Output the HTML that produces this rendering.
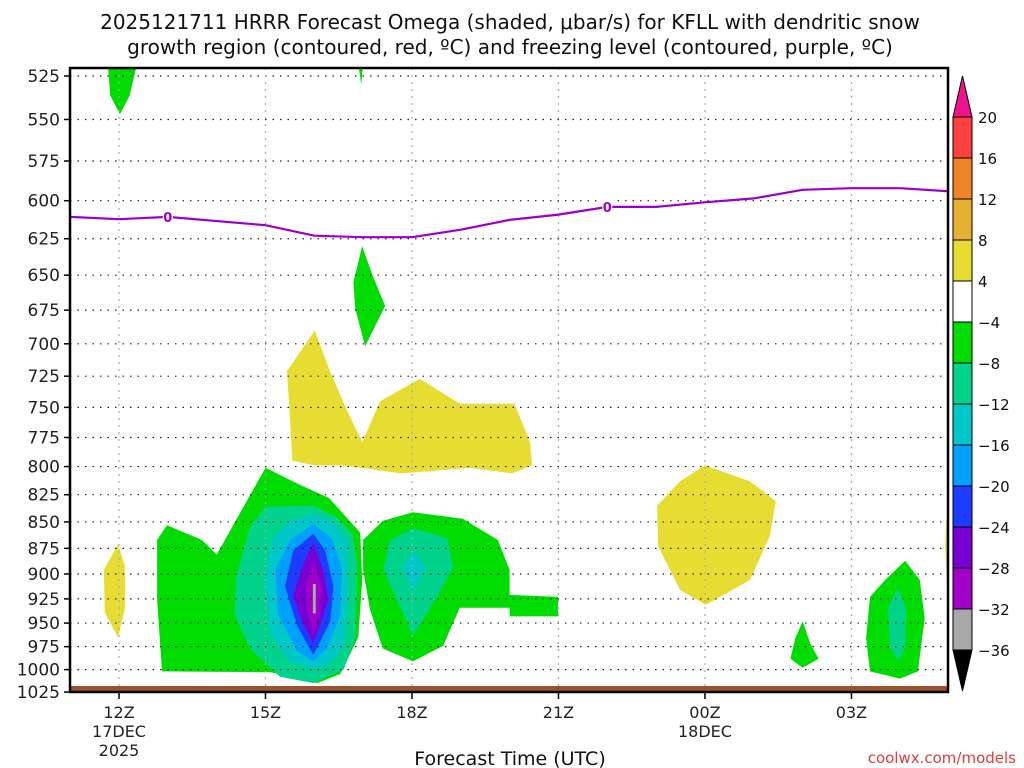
<!DOCTYPE html>
<html><head><meta charset="utf-8"><style>
html,body{margin:0;padding:0;background:#fff;}
svg{display:block;font-family:"DejaVu Sans","Liberation Sans",sans-serif;}
</style></head><body>
<svg id="chart" width="1024" height="768" viewBox="0 0 1024 768" xmlns="http://www.w3.org/2000/svg">
<text x="510" y="29" font-size="20" text-anchor="middle" fill="#111">2025121711 HRRR Forecast Omega (shaded, μbar/s) for KFLL with dendritic snow</text>
<text x="510" y="54" font-size="20" text-anchor="middle" fill="#111">growth region (contoured, red, ºC) and freezing level (contoured, purple, ºC)</text>
<defs><clipPath id="plotclip"><rect x="70" y="68" width="878" height="624"/></clipPath></defs>
<g id="shades" clip-path="url(#plotclip)"></g>
<g id="grid"></g>
<g id="frz" clip-path="url(#plotclip)"></g>
<rect x="70" y="686" width="878" height="6" fill="#a0522d"/>
<g id="axes"></g>
<g id="cbar"></g>
<text x="510" y="765" font-size="19" text-anchor="middle" fill="#111">Forecast Time (UTC)</text>
<text x="1016" y="763" font-size="15" text-anchor="end" fill="#e03c3c">coolwx.com/models</text>
</svg>
<script>
// ---- data ----
const pressureTicks = [525,550,575,600,625,650,675,700,725,750,775,800,825,850,875,900,925,950,975,1000,1025];
const timeTicks = [12,15,18,21,24,27];
const timeLabels = ["12Z","15Z","18Z","21Z","00Z","03Z"];
const timeSubLabels = [["17DEC","2025"],[],[],[],["18DEC"],[]];
const cbarLevels = [20,16,12,8,4,-4,-8,-12,-16,-20,-24,-28,-32,-36];
const cbarColors = ["#ff4040","#f08428","#e6b030","#e6dc32","#ffffff","#00dc00","#00d48c","#00c8c8","#00a0ff","#1e3cff","#7800d2","#a000c8","#a8a8a8"];
const greenLeft = [[12.78,867],[12.98,853],[13.7,867],[14.0,881],[15.0,801],[15.7,816],[16.3,828],[16.94,860],[16.98,906],[16.9,965],[16.53,1005],[16.06,1015],[15.1,1003],[12.88,1002],[12.78,925]];
const tealLeft = [[15,836],[15.98,835],[16.47,846],[16.78,861],[16.88,891],[16.84,966],[16.6,1000],[15.98,1015],[15.3,1008],[14.68,977],[14.37,941],[14.4,903],[14.68,855]];
const cyanLeft = [[15.98,843],[16.37,849],[16.68,867],[16.7,918],[16.6,974],[16.26,996],[15.98,999],[15.5,991],[15.1,962],[15.0,903],[15.13,867],[15.5,849]];
const lblueLeft = [[15.98,852],[16.37,866],[16.57,896],[16.53,942],[16.26,977],[15.98,991],[15.65,980],[15.26,941],[15.2,896],[15.5,867]];
const dblueLeft = [[15.98,861],[16.22,877],[16.39,912],[16.33,948],[15.98,984],[15.65,953],[15.4,912],[15.57,877]];
const purpleLeft = [[15.98,870],[16.18,896],[16.29,925],[16.12,952],[15.98,971],[15.75,948],[15.57,922],[15.75,893]];
const magentaLeft = [[15.98,887],[16.16,915],[16.08,942],[15.98,960],[15.86,938],[15.82,912]];
const grayCore = [[15.97,910],[16.03,910],[16.03,940],[15.97,940]];
const green18 = [[17.0,867],[17.4,849],[18.02,841],[19.04,847],[19.76,867],[20.0,896],[20.0,921],[20.99,923],[20.99,943],[20.0,943],[20.0,934],[18.98,934],[18.64,974],[18.02,991],[17.4,977],[17.14,936],[17.0,896]];
const teal18 = [[17.55,867],[18.02,856],[18.72,865],[18.84,893],[18.57,918],[18.02,963],[17.41,896]];
const cyan18 = [[18.02,877],[18.27,894],[18.02,918],[17.82,894]];
const yellowMid = [[15.44,721],[16.01,690],[16.32,721],[16.63,749],[16.98,779],[17.35,745],[18.16,727],[18.98,747],[20.1,747],[20.42,779],[20.46,799],[20.05,806],[19.19,801],[18.37,804],[17.76,806],[17.14,802],[16.53,799],[16.01,799],[15.55,795],[15.5,758]];
const green17 = [[16.98,630],[17.18,649],[17.45,672],[17.04,702],[16.84,674],[16.8,655]];
const greenTop12 = [[11.77,518],[12.37,518],[12.22,536],[12.02,547],[11.82,536]];
const greenTop17 = [[16.9,518],[17.0,518],[16.96,530]];
const yellow12 = [[11.98,871],[12.12,892],[12.12,935],[11.98,965],[11.71,939],[11.69,896]];
const yellow00 = [[24,799],[24.92,813],[25.45,831],[25.33,863],[24.92,906],[24.02,931],[23.49,916],[23.04,873],[23.02,835],[23.49,813]];
const yellowEdge = [[29.1,833],[28.94,848],[28.92,872],[28.96,915],[29.1,967]];
const green02 = [[26,948],[26.16,972],[26.33,988],[26,998],[25.75,988],[25.85,966]];
const green04 = [[28.1,887],[28.4,906],[28.5,945],[28.36,1002],[27.99,1010],[27.38,1002],[27.3,966],[27.38,923],[27.69,906]];
const teal04 = [[27.95,914],[28.12,935],[28.1,976],[27.95,990],[27.79,976],[27.75,935]];
const regions = [
 ["yellow-mid",3,yellowMid],["yellow-12z",3,yellow12],["yellow-00z",3,yellow00],["yellow-edge",3,yellowEdge],
 ["green-top-12z",5,greenTop12],["green-top-17z",5,greenTop17],["green-17z",5,green17],
 ["green-left",5,greenLeft],["teal-left",6,tealLeft],["cyan-left",7,cyanLeft],["lightblue-left",8,lblueLeft],
 ["darkblue-left",9,dblueLeft],["purple-left",10,purpleLeft],["magenta-left",11,magentaLeft],["gray-core",12,grayCore],
 ["green-18z",5,green18],["teal-18z",6,teal18],["cyan-18z",7,cyan18],
 ["green-02z",5,green02],["green-04z",5,green04],["teal-04z",6,teal04]
];
const frzHours = [11,12,13,15,16,17,18,19,20,21,22,23,24,25,26,27,28,29];
const frzPress = [610.5,612,610.5,616,623,624,624,619,612.5,609,604,604,601,598.5,593,592,592,594];
const frzLabelHours = [13,22];
// ---- axes ----
const NS="http://www.w3.org/2000/svg";
const X0=70,X1=948,Y0=68,Y1=692;
function xs(h){return 119+(h-12)*48.83;}
function ys(p){const f=(Math.log(p)-Math.log(525))/(Math.log(1025)-Math.log(525));return 76+616*f+3*Math.sin(Math.PI*f);}
function mk(tag,attrs,parent){const e=document.createElementNS(NS,tag);for(const k in attrs)e.setAttribute(k,attrs[k]);parent.appendChild(e);return e;}
const shades=document.getElementById('shades');
regions.forEach(r=>{
 const pts=r[2].map(d=>xs(d[0]).toFixed(1)+','+ys(d[1]).toFixed(1)).join(' ');
 const el=mk('polygon',{points:pts,fill:cbarColors[r[1]]},shades);
 
 
});
const grid=document.getElementById('grid');
pressureTicks.forEach(p=>{
 const el=mk('line',{x1:X0,x2:X1,y1:ys(p),y2:ys(p),stroke:'#222','stroke-width':1.2,'stroke-dasharray':'1.5 6'},grid);
 
 
});
timeTicks.forEach(h=>{
 const el=mk('line',{x1:xs(h),x2:xs(h),y1:Y0,y2:Y1,stroke:'#aaa','stroke-width':1.2,'stroke-dasharray':'2 5'},grid);
 
 
});
const frz=document.getElementById('frz');
const fl=mk('polyline',{points:frzHours.map((h,i)=>xs(h).toFixed(1)+','+ys(frzPress[i]).toFixed(1)).join(' '),fill:'none',stroke:'#9a00cc','stroke-width':2.2},frz);


frzLabelHours.forEach(h=>{
 let i=frzHours.indexOf(h);const y=ys(frzPress[i]);
 const bg=mk('rect',{x:xs(h)-5,y:y-7,width:10,height:14,fill:'#fff'},frz);
 
 
 const t=mk('text',{x:xs(h),y:y+5,'font-size':13,'text-anchor':'middle',fill:'#9a00cc','font-weight':'bold'},frz);
 t.textContent='0';
 
 
});
const axes=document.getElementById('axes');
const frame=mk('path',{d:`M${X0},${Y0}H${X1}V${Y1}H${X0}Z`,fill:'none',stroke:'#000','stroke-width':2.5},axes);


pressureTicks.forEach(p=>{
 const tk=mk('line',{x1:X0-6,x2:X0,y1:ys(p),y2:ys(p),stroke:'#000','stroke-width':1.5},axes);
 
 
 const t=mk('text',{x:X0-10,y:ys(p)+6,'font-size':17,'text-anchor':'end',fill:'#222'},axes);
 t.textContent=p;
 
 
});
timeTicks.forEach((h,i)=>{
 const tk=mk('line',{x1:xs(h),x2:xs(h),y1:Y1,y2:Y1+7,stroke:'#000','stroke-width':1.5},axes);
 
 
 const t=mk('text',{x:xs(h),y:718,'font-size':16,'text-anchor':'middle',fill:'#222'},axes);
 t.textContent=timeLabels[i];
 
 
 timeSubLabels[i].forEach((s,j)=>{
  const u=mk('text',{x:xs(h),y:737+j*19,'font-size':16,'text-anchor':'middle',fill:'#222'},axes);
  u.textContent=s;
  
  
 });
});
const cb=document.getElementById('cbar');
const CX0=953,CX1=972;
function cy(i){return 117+i*41;}
for(let i=0;i<cbarColors.length;i++){
 const r=mk('rect',{x:CX0,y:cy(i),width:CX1-CX0,height:41,fill:cbarColors[i],stroke:'#000','stroke-width':1},cb);
 
 
}
const tt=mk('polygon',{points:`${CX0},${cy(0)} ${CX1},${cy(0)} ${(CX0+CX1)/2},76`,fill:'#f0148c',stroke:'#000','stroke-width':1},cb);


const tb=mk('polygon',{points:`${CX0},${cy(13)} ${CX1},${cy(13)} ${(CX0+CX1)/2},691`,fill:'#000',stroke:'#000','stroke-width':1},cb);


cbarLevels.forEach((v,i)=>{
 const t=mk('text',{x:978,y:cy(i)+6,'font-size':15,fill:'#111'},cb);
 t.textContent=(v<0?'\u2212'+(-v):v);
 
 
});
</script>
</body></html>
